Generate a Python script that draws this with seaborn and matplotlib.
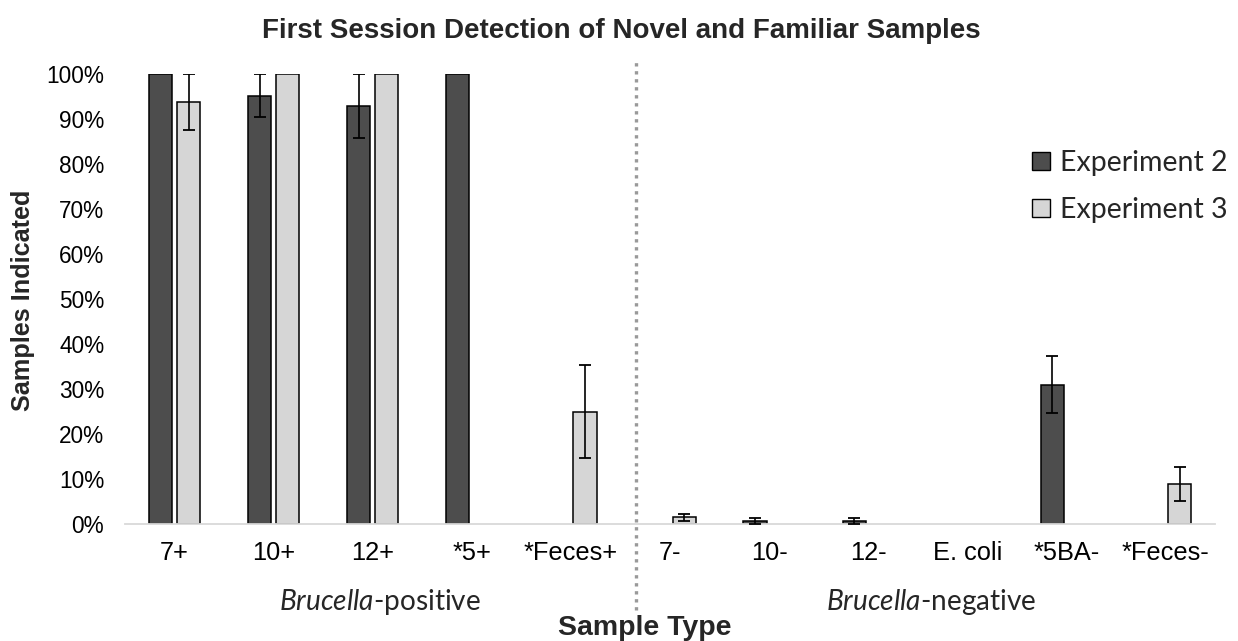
#!/usr/bin/env python3
"""First session detection of novel and familiar samples - grouped bar chart."""

import numpy as np
import pandas as pd
import matplotlib
matplotlib.use("Agg")
import matplotlib.pyplot as plt
from matplotlib.patches import Patch
from matplotlib.ticker import PercentFormatter
import seaborn as sns

# =============================================================================
# DATA (percent of samples indicated)
# =============================================================================

CATEGORIES = ["7+", "10+", "12+", "*5+", "*Feces+",
              "7-", "10-", "12-", "E. coli", "*5BA-", "*Feces-"]
SERIES = ["Experiment 2", "Experiment 3"]

EXP2_VALUES = [100.0, 95.2, 92.9, 100.0, np.nan,
               np.nan, 0.7, 0.7, np.nan, 31.0, np.nan]
EXP2_ERRORS = [0.0, 4.8, 7.1, 0.0, np.nan,
               np.nan, 0.7, 0.7, np.nan, 6.3, np.nan]

EXP3_VALUES = [93.75, 100.0, 100.0, np.nan, 25.0,
               1.5, np.nan, np.nan, np.nan, np.nan, 8.9]
EXP3_ERRORS = [6.25, 0.0, 0.0, np.nan, 10.4,
               0.8, np.nan, np.nan, np.nan, np.nan, 3.7]

Y_TICKS = [0, 10, 20, 30, 40, 50, 60, 70, 80, 90, 100]

# =============================================================================
# STYLE
# =============================================================================

DARK = "#4d4d4d"
LIGHT = "#d6d6d6"
ARIAL = ["Liberation Sans", "DejaVu Sans"]
CALIBRI = ["Lato", "DejaVu Sans"]

sns.set_style("white")
plt.rcParams["font.family"] = ARIAL
plt.rcParams["mathtext.fontset"] = "custom"
plt.rcParams["mathtext.rm"] = "Lato"
plt.rcParams["mathtext.it"] = "Lato:italic"

# =============================================================================
# PLOT
# =============================================================================

rows = []
for name, values in zip(SERIES, [EXP2_VALUES, EXP3_VALUES]):
    for cat, val in zip(CATEGORIES, values):
        if not np.isnan(val):
            rows.append({"Sample": cat, "Experiment": name, "Value": val})
df = pd.DataFrame(rows)

errors = {SERIES[0]: dict(zip(CATEGORIES, EXP2_ERRORS)),
          SERIES[1]: dict(zip(CATEGORIES, EXP3_ERRORS))}

fig = plt.figure(figsize=(12.38, 6.41), dpi=100)
ax = fig.add_axes([0.101, 0.1825, 0.8804, 0.7021])

sns.barplot(
    data=df, x="Sample", y="Value", hue="Experiment",
    order=CATEGORIES, hue_order=SERIES,
    palette={SERIES[0]: DARK, SERIES[1]: LIGHT},
    width=0.568, gap=0.18, errorbar=None,
    edgecolor="black", linewidth=1.1, legend=False, ax=ax,
)

# custom error bars on top of the seaborn bars
for series, container in zip(SERIES, ax.containers):
    for patch in container.patches:
        xc = patch.get_x() + patch.get_width() / 2
        cat = CATEGORIES[int(round(xc))]
        err = errors[series][cat]
        if np.isnan(err) or err == 0:
            continue
        ax.errorbar(xc, patch.get_height(), yerr=err, fmt="none",
                    ecolor="black", elinewidth=1.2, capsize=4.6,
                    capthick=1.3, zorder=5)

ax.set_xlim(-0.5, len(CATEGORIES) - 0.5)
ax.set_ylim(0, 100)
ax.set_yticks(Y_TICKS)
ax.yaxis.set_major_formatter(PercentFormatter(100, decimals=0))
ax.set_xlabel("")
ax.set_ylabel("")
ax.tick_params(axis="y", length=0, pad=15, labelsize=16.3, labelcolor="black")
ax.tick_params(axis="x", length=0, pad=12, labelsize=18.3, labelcolor="black")

for side in ["left", "right", "top"]:
    ax.spines[side].set_visible(False)
ax.spines["bottom"].set_color("#d9d9d9")
ax.spines["bottom"].set_linewidth(1.3)

# divider between positive and negative sample groups
ax.axvline(4.66, ymin=-0.19, ymax=1.03, color="#999999", linewidth=2.4,
           linestyle=(0, (1, 1.4)), clip_on=False, zorder=0)

fig.text(0.502, 0.952, "First Session Detection of Novel and Familiar Samples",
         ha="center", va="center", fontsize=20, fontweight="bold")
fig.text(0.0186, 0.532, "Samples Indicated", rotation=90, ha="center",
         va="center", fontsize=18.2, fontweight="bold")
fig.text(0.521, 0.021, "Sample Type", ha="center", va="center",
         fontsize=20.5, fontweight="bold")
fig.text(0.307, 0.061, r"$Brucella$-positive", ha="center", va="center",
         fontsize=20.2, family=CALIBRI)
fig.text(0.752, 0.061, r"$Brucella$-negative", ha="center", va="center",
         fontsize=20.2, family=CALIBRI)

handles = [Patch(facecolor=DARK, edgecolor="black", linewidth=1.0),
           Patch(facecolor=LIGHT, edgecolor="black", linewidth=1.0)]
ax.legend(handles, SERIES, loc="upper left",
          bbox_to_anchor=(0.834, 0.766), bbox_transform=fig.transFigure,
          frameon=False, borderpad=0, borderaxespad=0,
          handlelength=0.63, handleheight=0.63, handletextpad=0.32,
          labelspacing=0.74, prop={"family": CALIBRI, "size": 20.5})

fig.savefig("out.png", dpi=100)
